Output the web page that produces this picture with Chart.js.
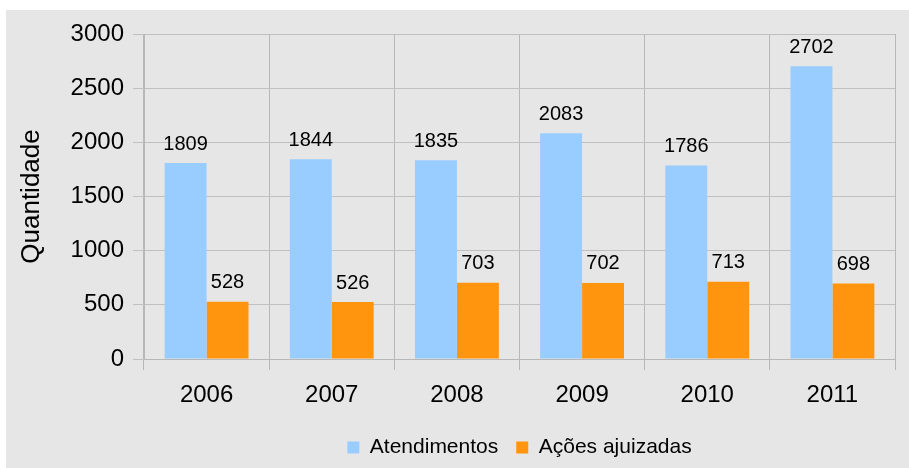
<!DOCTYPE html>
<html>
<head>
<meta charset="utf-8">
<script src="https://cdn.jsdelivr.net/npm/chart.js@4"></script>
<style>
  body { margin: 0; background: #ffffff; }
  #box { position: absolute; left: 6px; top: 10px; width: 903px; height: 458px; background: #e6e6e6; }
</style>
</head>
<body>
<div id="box"><canvas id="chart" width="903" height="458"></canvas></div>
<script>
const years = ['2006', '2007', '2008', '2009', '2010', '2011'];
const atendimentos = [1809, 1844, 1835, 2083, 1786, 2702];
const acoes = [528, 526, 703, 702, 713, 698];
const seriesNames = ['Atendimentos', 'Ações ajuizadas'];
const yTicks = [0, 500, 1000, 1500, 2000, 2500, 3000];

const fontFamily = '"Liberation Sans", Arial, sans-serif';

// Value labels above each bar
const valueLabels = {
    id: 'valueLabels',
    afterDatasetsDraw(chart) {
        const ctx = chart.ctx;
        ctx.save();
        ctx.font = '20px ' + fontFamily;
        ctx.fillStyle = '#000000';
        ctx.textAlign = 'center';
        ctx.textBaseline = 'bottom';
        chart.data.datasets.forEach((ds, i) => {
            chart.getDatasetMeta(i).data.forEach((bar, j) => {
                ctx.fillText(String(ds.data[j]), bar.x, bar.y - 9);
            });
        });
        ctx.restore();
    }
};

// Center the legend under the plot area instead of the whole canvas
const centerLegend = {
    id: 'centerLegend',
    afterLayout(chart) {
        const l = chart.legend;
        const shift = (chart.chartArea.left + chart.chartArea.right) / 2 - (l.left + l.right) / 2;
        l.left += shift;
        l.right += shift;
    }
};

new Chart(document.getElementById('chart').getContext('2d'), {
    type: 'bar',
    data: {
        labels: years,
        datasets: [
            {
                label: seriesNames[0],
                data: atendimentos,
                backgroundColor: '#99ccff'
            },
            {
                label: seriesNames[1],
                data: acoes,
                backgroundColor: '#ff950e'
            }
        ]
    },
    options: {
        responsive: false,
        animation: false,
        layout: { padding: { top: 24, right: 14, left: 0, bottom: 0 } },
        datasets: {
            bar: { categoryPercentage: 0.67, barPercentage: 1.0 }
        },
        plugins: {
            tooltip: { enabled: false },
            legend: {
                position: 'bottom',
                labels: {
                    color: '#000000',
                    font: { family: fontFamily, size: 21 },
                    boxWidth: 12,
                    boxHeight: 12,
                    padding: 18
                }
            }
        },
        scales: {
            x: {
                grid: { color: '#b8b8b8', tickLength: 11, offset: true },
                border: { color: '#b8b8b8' },
                ticks: {
                    color: '#000000',
                    font: { family: fontFamily, size: 24 },
                    padding: 11
                },
                afterFit(scale) { scale.height = 60; }
            },
            y: {
                min: 0,
                max: 3000,
                afterBuildTicks(scale) { scale.ticks = yTicks.map(v => ({ value: v })); },
                grid: { color: '#c0c0c0', tickLength: 11 },
                border: { color: '#b8b8b8' },
                ticks: {
                    color: '#000000',
                    font: { family: fontFamily, size: 24 },
                    padding: 9,
                    callback: function(value) { return String(value); }
                },
                title: {
                    display: true,
                    text: 'Quantidade',
                    color: '#000000',
                    font: { family: fontFamily, size: 26 },
                    padding: { top: 10, bottom: 0 }
                },
                afterFit(scale) { scale.width = 138; }
            }
        }
    },
    plugins: [valueLabels, centerLegend]
});
</script>
</body>
</html>
